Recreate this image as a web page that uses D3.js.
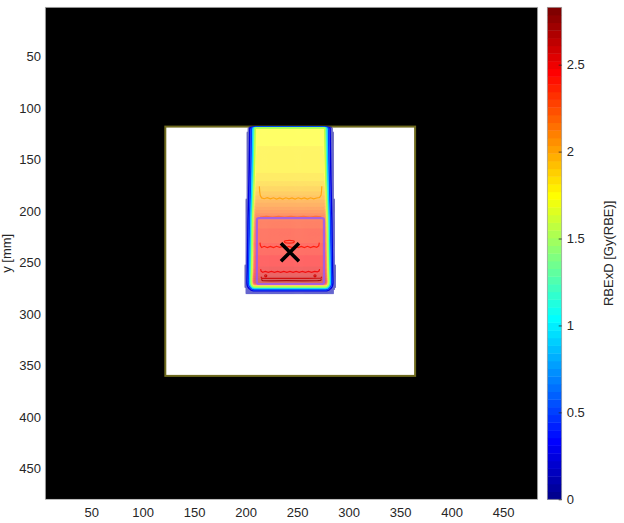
<!DOCTYPE html>
<html>
<head>
<meta charset="utf-8">
<script src="https://cdn.jsdelivr.net/npm/d3@7/dist/d3.min.js"></script>
<style>
  html, body { margin: 0; padding: 0; background: #ffffff; }
  svg { display: block; }
  text { font-family: "Liberation Sans", Arial, Helvetica, sans-serif; }
</style>
</head>
<body>
<svg id="chart" width="624" height="523"></svg>
<script>
// ---- axes ----
const xTicks = [50, 100, 150, 200, 250, 300, 350, 400, 450];
const yTicks = [50, 100, 150, 200, 250, 300, 350, 400, 450];
const colorTicks = [0, 0.5, 1, 1.5, 2, 2.5];
const xExtent = [5.5, 483.5];          // mm
const yExtent = [2.2, 479.8];          // mm
const doseMax = 2.83;                  // Gy(RBE), top of colour scale

// ---- geometry (mm) ----
const phantomX = [122, 364.5];
const phantomY = [118, 360];
const targetX = [210.9, 276.0];
const targetY = [206.8, 270.8];
const isocenter = [243, 240];

// ---- beam dose model ----
// central-axis RBE-weighted dose vs depth
const depthMM   = [117.7, 118.5, 119.5, 140, 160, 172, 186.5, 197, 206, 218, 234.6, 248, 258.9, 264.5, 268, 270, 271.5, 273, 274.5, 276, 277.5, 279, 280.5];
const depthDose = [0, 0.45, 1.76, 1.77, 1.80, 1.86, 2.0, 2.14, 2.28, 2.35, 2.40, 2.45, 2.50, 2.60, 2.66, 2.60, 2.30, 1.75, 1.15, 0.60, 0.25, 0.08, 0];
// lateral 50% half-width vs depth
const beamCenterX = 243;
const widthDepthMM = [118, 280];
const halfWidthMM = [36.0, 38.3];
// penumbra: distance outside the 50% edge (mm) -> relative dose
const penumbraMM  = [-8, -4, -3, -2, -1, 0, 1, 2, 3, 4, 5, 6];
const penumbraRel = [1, 1, 0.96, 0.86, 0.66, 0.47, 0.32, 0.22, 0.14, 0.06, 0.03, 0];
// low-dose scatter region around the target
const haloX = [200.4, 285.3];
const haloY = [220.4, 279.6];
const haloDose = 0.12;
const doseThreshold = 0.03;
const cellSize = 1;                     // mm
const gridX = [190.5, 295.5];
const gridY = [117.5, 284.5];

// ---- isodose lines ----
// penumbra / distal-edge levels, traced from the dose grid
const edgeLevels = [0.25, 0.5, 0.9, 1.25, 1.55];
// inner levels (mm)
const iso200 = [[213.3,176],[213.6,181],[214.2,185],[215.5,187.2],[218,188],[221,187],[224,188.2],[227,187.1],[230,188.3],[233,187.2],[236,188.3],[239,187.1],[242,188.2],[245,187.2],[248,188.3],[251,187.1],[254,188.2],[257,187.2],[260,188.3],[263,187.1],[266,188.2],[269,187.3],[271.8,186.8],[273.2,184.5],[273.7,180],[273.9,176]];
const iso225 = [[214,205.8],[220,205.2],[226,205.8],[232,205.2],[238,205.8],[244,205.2],[250,205.8],[256,205.2],[262,205.8],[268,205.2],[273.5,205.6]];
const iso240 = [[213.9,230.7],[214.3,233.5],[215.5,235.3],[218,234.2],[221,235.4],[224,234.3],[227,235.5],[230,234.2],[233,235.3],[236,234.4],[239,235.5],[242,234.3],[245,235.4],[248,234.2],[251,235.5],[254,234.3],[257,235.4],[260,234.2],[263,235.4],[266,234.4],[269,235.2],[270.9,233.8],[271.5,230.7]];
const iso250 = [[214.5,256.3],[215,258.3],[216.5,259.4],[219,258.6],[222,259.5],[225,258.5],[228,259.4],[231,258.6],[234,259.5],[237,258.5],[240,259.4],[243,258.6],[246,259.5],[249,258.5],[252,259.4],[255,258.6],[258,259.5],[261,258.5],[264,259.4],[267,258.6],[269.5,259.1],[271.2,258.2],[271.8,256.3]];
const iso260 = [[214.9,263.8],[215.6,265.3],[220,265.4],[230,265.2],[240,265.4],[250,265.2],[260,265.4],[270,265.2],[273.2,265.1],[273.9,263.8]];
const iso270 = [[215.2,266.4],[216.5,267.6],[225,267.7],[240,267.6],[255,267.7],[270,267.6],[272.8,267.4],[273.6,266.4]];
const isoLevels = [2.0, 2.25, 2.4, 2.5, 2.6, 2.7];
const isoLines = [iso200, iso225, iso240, iso250, iso260, iso270];
const isoIsland = { cx: 242.4, cy: 229.8, rx: 4.9, ry: 1.3, level: 2.4 };
const isoDots = [[219.5, 262.8], [267.3, 262.8]];
const isoDotLevel = 2.6;

// ---- layout ----
const plotLeft = 45.3, plotTop = 7.3, plotW = 492.4, plotH = 492;
const cbLeft = 547.3, cbW = 14.4;
const overlayAlpha = 0.6;

const svg = d3.select("#chart");
const x = d3.scaleLinear().domain(xExtent).range([plotLeft, plotLeft + plotW]);
const y = d3.scaleLinear().domain(yExtent).range([plotTop, plotTop + plotH]);

// MATLAB-style 64-step jet colour map
const jetColors = d3.range(64).map(i => {
  const j = i + 1;
  const u = k => (k < 1 || k > 47) ? 0 : (k <= 16 ? k / 16 : (k <= 31 ? 1 : (48 - k) / 16));
  return d3.rgb(255 * u(j - 24), 255 * u(j - 8), 255 * u(j + 8)).formatHex();
});
const doseColor = d3.scaleQuantize().domain([0, doseMax]).range(jetColors);

svg.append("clipPath").attr("id", "plotClip")
  .append("rect").attr("x", plotLeft).attr("y", plotTop).attr("width", plotW).attr("height", plotH);

const plot = svg.append("g").attr("clip-path", "url(#plotClip)");

// air
plot.append("rect")
  .attr("x", plotLeft).attr("y", plotTop).attr("width", plotW).attr("height", plotH)
  .attr("fill", "#000000");

// water phantom
plot.append("rect")
  .attr("x", x(phantomX[0])).attr("y", y(phantomY[0]))
  .attr("width", x(phantomX[1]) - x(phantomX[0]))
  .attr("height", y(phantomY[1]) - y(phantomY[0]))
  .attr("fill", "#ffffff")
  .attr("stroke", "#6e6a1e").attr("stroke-width", 2);

// dose grid
const depthScale = d3.scaleLinear().domain(depthMM).range(depthDose).clamp(true);
const halfWidth = d3.scaleLinear().domain(widthDepthMM).range(halfWidthMM).clamp(true);
const penumbra = d3.scaleLinear().domain(penumbraMM).range(penumbraRel).clamp(true);
const beamDose = (cx, cy) => depthScale(cy) * penumbra(Math.abs(cx - beamCenterX) - halfWidth(cy));

const nx = Math.round((gridX[1] - gridX[0]) / cellSize) + 1;
const ny = Math.round((gridY[1] - gridY[0]) / cellSize) + 1;
const beamValues = new Array(nx * ny);
const cells = [];
for (let j = 0; j < ny; j++) {
  const cy = gridY[0] + j * cellSize;
  for (let i = 0; i < nx; i++) {
    const cx = gridX[0] + i * cellSize;
    const b = beamDose(cx, cy);
    beamValues[j * nx + i] = b;
    let d = b;
    if (cx >= haloX[0] && cx <= haloX[1] && cy >= haloY[0] && cy <= haloY[1]) d = Math.max(d, haloDose);
    if (d >= doseThreshold) cells.push({ x: cx, y: cy, d: d });
  }
}

const cellW = x(cellSize) - x(0);
const cellH = y(cellSize) - y(0);
plot.append("g").attr("opacity", overlayAlpha)
  .selectAll("rect").data(cells).join("rect")
  .attr("x", d => x(d.x - cellSize / 2))
  .attr("y", d => y(d.y - cellSize / 2))
  .attr("width", cellW + 0.6)
  .attr("height", cellH + 0.6)
  .attr("fill", d => doseColor(d.d));

// penumbra isodose lines from the grid
const gridToScreen = d3.geoTransform({
  point(gx, gy) {
    this.stream.point(x(gridX[0] + (gx - 0.5) * cellSize), y(gridY[0] + (gy - 0.5) * cellSize));
  }
});
const contourPath = d3.geoPath(gridToScreen);
const edgeContours = d3.contours().size([nx, ny]).thresholds(edgeLevels)(beamValues);
plot.append("g").attr("fill", "none").attr("stroke-width", 1.4)
  .selectAll("path").data(edgeContours).join("path")
  .attr("d", contourPath)
  .attr("stroke", d => doseColor(d.value));

// inner isodose lines
const line = d3.line().x(d => x(d[0])).y(d => y(d[1]));
const isoG = plot.append("g").attr("fill", "none").attr("stroke-width", 1.2);
isoLines.forEach((pts, i) => {
  isoG.append("path")
    .attr("d", line(pts))
    .attr("stroke", doseColor(isoLevels[i]))
    .attr("stroke-opacity", isoLevels[i] === 2.25 ? 0.45 : 0.85);
});
isoG.append("ellipse")
  .attr("cx", x(isoIsland.cx)).attr("cy", y(isoIsland.cy))
  .attr("rx", x(isoIsland.cx + isoIsland.rx) - x(isoIsland.cx))
  .attr("ry", y(isoIsland.cy + isoIsland.ry) - y(isoIsland.cy))
  .attr("stroke", doseColor(isoIsland.level)).attr("stroke-opacity", 0.85);
isoG.selectAll("circle").data(isoDots).join("circle")
  .attr("cx", d => x(d[0])).attr("cy", d => y(d[1]))
  .attr("r", x(1) - x(0))
  .attr("stroke", doseColor(isoDotLevel)).attr("stroke-opacity", 0.9);

// target contour
plot.append("rect")
  .attr("x", x(targetX[0])).attr("y", y(targetY[0]))
  .attr("width", x(targetX[1]) - x(targetX[0]))
  .attr("height", y(targetY[1]) - y(targetY[0]))
  .attr("rx", 2).attr("ry", 2)
  .attr("fill", "none")
  .attr("stroke", "#9b5cf2").attr("stroke-opacity", 0.85).attr("stroke-width", 2.2);

// isocenter marker
const mk = 9;
const ix = x(isocenter[0]), iy = y(isocenter[1]);
plot.append("path")
  .attr("d", `M${ix - mk},${iy - mk}L${ix + mk},${iy + mk}M${ix - mk},${iy + mk}L${ix + mk},${iy - mk}`)
  .attr("stroke", "#000000").attr("stroke-width", 3.6).attr("fill", "none");

// axes box
svg.append("rect")
  .attr("x", plotLeft).attr("y", plotTop).attr("width", plotW).attr("height", plotH)
  .attr("fill", "none").attr("stroke", "#a0a0a0").attr("stroke-width", 0.7);

const styleAxis = g => {
  g.select(".domain").remove();
  g.selectAll("text").attr("font-size", 13).attr("fill", "#262626")
    .attr("font-family", "'Liberation Sans', Arial, Helvetica, sans-serif");
};

svg.append("g")
  .attr("transform", `translate(0,${plotTop + plotH})`)
  .call(d3.axisBottom(x).tickValues(xTicks).tickSize(0).tickPadding(8.8))
  .call(styleAxis);

svg.append("g")
  .attr("transform", `translate(${plotLeft},0)`)
  .call(d3.axisLeft(y).tickValues(yTicks).tickSize(0).tickPadding(4.3))
  .call(styleAxis);

svg.append("text")
  .attr("transform", `translate(11,${plotTop + plotH / 2}) rotate(-90)`)
  .attr("text-anchor", "middle")
  .attr("font-size", 13).attr("fill", "#262626")
  .text("y [mm]");

// colour bar
const cScale = d3.scaleLinear().domain([0, doseMax]).range([plotTop + plotH, plotTop]);
const bands = d3.range(64);
svg.append("g").selectAll("rect").data(bands).join("rect")
  .attr("x", cbLeft)
  .attr("y", i => cScale((i + 1) * doseMax / 64))
  .attr("width", cbW)
  .attr("height", i => cScale(i * doseMax / 64) - cScale((i + 1) * doseMax / 64) + 0.4)
  .attr("fill", i => jetColors[i]);
svg.append("rect")
  .attr("x", cbLeft).attr("y", plotTop).attr("width", cbW).attr("height", plotH)
  .attr("fill", "none").attr("stroke", "#9a9a9a").attr("stroke-width", 0.7);

svg.append("g")
  .attr("transform", `translate(${cbLeft + cbW},0)`)
  .call(d3.axisRight(cScale).tickValues(colorTicks).tickSizeInner(-3).tickSizeOuter(0).tickPadding(5).tickFormat(d3.format("")))
  .call(styleAxis)
  .call(g => g.selectAll("line").attr("stroke", "#262626").attr("stroke-width", 0.8));

svg.append("text")
  .attr("transform", `translate(608,${plotTop + plotH / 2}) rotate(-90)`)
  .attr("text-anchor", "middle")
  .attr("dy", "0.35em")
  .attr("font-size", 13).attr("fill", "#262626")
  .text("RBExD [Gy(RBE)]");
</script>
</body>
</html>
